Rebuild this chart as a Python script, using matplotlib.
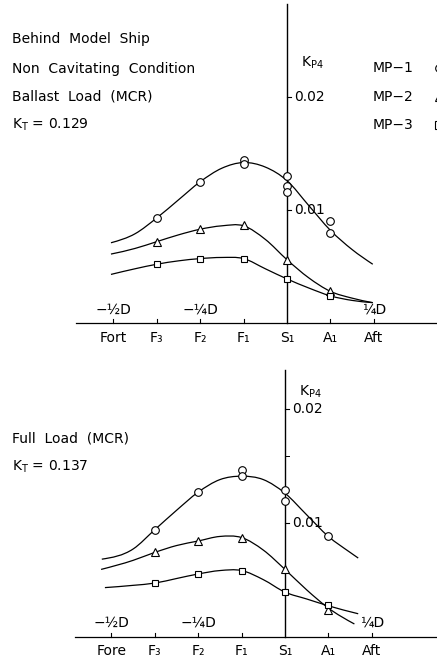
import numpy as np
import matplotlib
matplotlib.use("Agg")
import matplotlib.pyplot as plt
from matplotlib.path import Path
from matplotlib.patches import PathPatch

plt.rcParams['font.family'] = ['DejaVu Sans']
plt.rcParams['mathtext.fontset'] = 'dejavusans'

# station positions (in propeller diameters D, S1 = 0)
stations = ['Fort', 'F₃', 'F₂', 'F₁', 'S₁', 'A₁', 'Aft']
stations_low = ['Fore', 'F₃', 'F₂', 'F₁', 'S₁', 'A₁', 'Aft']
station_x = [-0.5, -0.375, -0.25, -0.125, 0.0, 0.125, 0.25]
d_labels = ['−½D', '−¼D', '¼D']
d_pos = [-0.5, -0.25, 0.25]

# measured points, ballast load (several readings at some stations)
bal_mp1_x = [-0.375, -0.25, -0.125, -0.125, 0.0, 0.0, 0.0, 0.125, 0.125]
bal_mp1_y = [0.0093, 0.0125, 0.0144, 0.0141, 0.0130, 0.0121, 0.0116, 0.0090, 0.0080]
bal_mp2_x = [-0.375, -0.25, -0.125, 0.0, 0.125]
bal_mp2_y = [0.0072, 0.0083, 0.0087, 0.0056, 0.0028]
bal_mp3_x = [-0.375, -0.25, -0.125, 0.0, 0.125]
bal_mp3_y = [0.0052, 0.0057, 0.0057, 0.0039, 0.0024]

# faired curves, ballast load
bal_c1_x = [-0.507, -0.4375, -0.375, -0.3125, -0.25, -0.1875, -0.125, -0.0625, 0.0, 0.0625, 0.125, 0.1875, 0.247]
bal_c1_y = [0.0071, 0.0079, 0.0093, 0.0109, 0.0125, 0.0137, 0.0142, 0.0138, 0.0126, 0.0104, 0.0082, 0.0065, 0.0052]
bal_c2_x = [-0.507, -0.4375, -0.375, -0.3125, -0.25, -0.1875, -0.125, -0.0625, 0.0, 0.0625, 0.125, 0.1875, 0.247]
bal_c2_y = [0.0061, 0.0066, 0.0072, 0.0078, 0.0083, 0.0086, 0.0086, 0.0074, 0.0056, 0.0040, 0.0028, 0.0022, 0.0018]
bal_c3_x = [-0.507, -0.4375, -0.375, -0.3125, -0.25, -0.1875, -0.125, -0.0625, 0.0, 0.0625, 0.125, 0.1875, 0.247]
bal_c3_y = [0.0043, 0.0048, 0.0052, 0.0055, 0.0057, 0.0058, 0.0057, 0.0048, 0.0039, 0.0031, 0.0024, 0.0020, 0.0018]

# measured points, full load
full_mp1_x = [-0.375, -0.25, -0.125, -0.125, 0.0, 0.0, 0.125]
full_mp1_y = [0.0094, 0.0127, 0.0146, 0.0141, 0.0129, 0.0119, 0.0088]
full_mp2_x = [-0.375, -0.25, -0.125, 0.0, 0.125]
full_mp2_y = [0.0074, 0.0084, 0.0087, 0.0059, 0.0023]
full_mp3_x = [-0.375, -0.25, -0.125, 0.0, 0.125]
full_mp3_y = [0.0047, 0.0055, 0.0058, 0.0039, 0.0028]

# faired curves, full load
full_c1_x = [-0.528, -0.4375, -0.375, -0.3125, -0.25, -0.1875, -0.125, -0.0625, 0.0, 0.0625, 0.125, 0.1875, 0.211]
full_c1_y = [0.0068, 0.0077, 0.0094, 0.0111, 0.0127, 0.0138, 0.0141, 0.0138, 0.0126, 0.0107, 0.0088, 0.0074, 0.0069]
full_c2_x = [-0.53, -0.4375, -0.375, -0.3125, -0.25, -0.1875, -0.125, -0.0625, 0.0, 0.0625, 0.125, 0.2]
full_c2_y = [0.0059, 0.0067, 0.0074, 0.0080, 0.0084, 0.0088, 0.0087, 0.0076, 0.0059, 0.0041, 0.0025, 0.0011]
full_c3_x = [-0.519, -0.4375, -0.375, -0.3125, -0.25, -0.1875, -0.125, -0.0625, 0.0, 0.0625, 0.125, 0.211]
full_c3_y = [0.0043, 0.0045, 0.0047, 0.0051, 0.0055, 0.0058, 0.0058, 0.0050, 0.0039, 0.0033, 0.0027, 0.0020]


def faired(ax, xs, ys):
    # smooth curve through the knots, drawn as cubic bezier segments (hermite slopes)
    x = np.asarray(xs)
    y = np.asarray(ys)
    h = np.diff(x)
    s = np.diff(y) / h
    d = np.empty_like(y)
    d[1:-1] = (s[:-1] * h[1:] + s[1:] * h[:-1]) / (h[:-1] + h[1:])
    d[0] = 1.5 * s[0] - 0.5 * d[1]
    d[-1] = 1.5 * s[-1] - 0.5 * d[-2]
    verts = [(x[0], y[0])]
    codes = [Path.MOVETO]
    for i in range(len(x) - 1):
        verts += [(x[i] + h[i] / 3, y[i] + d[i] * h[i] / 3),
                  (x[i + 1] - h[i] / 3, y[i + 1] - d[i + 1] * h[i] / 3),
                  (x[i + 1], y[i + 1])]
        codes += [Path.CURVE4] * 3
    ax.add_patch(PathPatch(Path(verts, codes), fill=False, lw=0.9, color='black'))


def frame(ax, x_left, y_top, labels, fs):
    ax.axis('off')
    ax.plot([x_left, 0.5], [0, 0], color='black', lw=0.9)
    ax.plot([0, 0], [0, y_top], color='black', lw=1.0)
    for x in station_x:
        if x != 0:
            ax.plot([x, x], [0, 0.00035], color='black', lw=0.8)
    for x, lab in zip(station_x, labels):
        ax.text(x, -0.0013, lab, ha='center', va='center', fontsize=fs)
    for x, lab in zip(d_pos, d_labels):
        ax.text(x, 0.0012, lab, ha='center', va='center', fontsize=fs)
    for v in [0.01, 0.02]:
        ax.plot([0, 0.012], [v, v], color='black', lw=0.8)
        ax.text(0.02, v, '%.2f' % v, ha='left', va='center', fontsize=fs)


def points(ax, x1, y1, x2, y2, x3, y3):
    kw = dict(ls='none', mfc='white', mec='black', mew=0.8, zorder=3)
    ax.plot(x1, y1, marker='o', ms=5.5, **kw)
    ax.plot(x2, y2, marker='^', ms=6, **kw)
    ax.plot(x3, y3, marker='s', ms=4.7, **kw)


fig = plt.figure(figsize=(4.37, 6.6), dpi=100)
fs = 10

# ---- top panel: ballast load
ax1 = fig.add_axes([0, 1 - 345 / 660, 1, 345 / 660])
ax1.set_xlim(-287 / 347.2, 150 / 347.2)
ax1.set_ylim(-22 / 11300, 323 / 11300)
frame(ax1, -0.608, 0.0282, stations, fs)
for xs, ys in [(bal_c1_x, bal_c1_y), (bal_c2_x, bal_c2_y), (bal_c3_x, bal_c3_y)]:
    faired(ax1, xs, ys)
points(ax1, bal_mp1_x, bal_mp1_y, bal_mp2_x, bal_mp2_y, bal_mp3_x, bal_mp3_y)
ax1.text(0.04, 0.0230, r'$\mathrm{K_{P4}}$', ha='left', va='center', fontsize=fs)
tx = -275 / 347.2
for v, s in [(0.0251, 'Behind  Model  Ship'), (0.0225, 'Non  Cavitating  Condition'),
             (0.0200, 'Ballast  Load  (MCR)'), (0.0175, r'$\mathrm{K_T}$ = 0.129')]:
    ax1.text(tx, v, s, ha='left', va='center', fontsize=fs)
lx = 86 / 347.2
mx = 151.5 / 347.2
kw = dict(mfc='white', mec='black', mew=0.8, clip_on=False)
for v, s, m in [(0.0226, 'MP−1', 'o'), (0.0200, 'MP−2', '^'), (0.0175, 'MP−3', 's')]:
    ax1.text(lx, v, s, ha='left', va='center', fontsize=fs)
    ax1.plot([mx], [v], marker=m, ms=5.5, **kw)

# ---- bottom panel: full load
ax2 = fig.add_axes([0, 0, 1, 315 / 660])
ax2.set_xlim(-285 / 347, 152 / 347)
ax2.set_ylim(-23.5 / 11370, 291.5 / 11370)
frame(ax2, -0.605, 0.0234, stations_low, fs)
for xs, ys in [(full_c1_x, full_c1_y), (full_c2_x, full_c2_y), (full_c3_x, full_c3_y)]:
    faired(ax2, xs, ys)
points(ax2, full_mp1_x, full_mp1_y, full_mp2_x, full_mp2_y, full_mp3_x, full_mp3_y)
ax2.plot([0, 0.012], [0.0159, 0.0159], color='black', lw=0.7)
ax2.text(0.04, 0.0215, r'$\mathrm{K_{P4}}$', ha='left', va='center', fontsize=fs)
tx = -273 / 347
ax2.text(tx, 0.0174, 'Full  Load  (MCR)', ha='left', va='center', fontsize=fs)
ax2.text(tx, 0.0149, r'$\mathrm{K_T}$ = 0.137', ha='left', va='center', fontsize=fs)

fig.savefig('out.png', dpi=100)
